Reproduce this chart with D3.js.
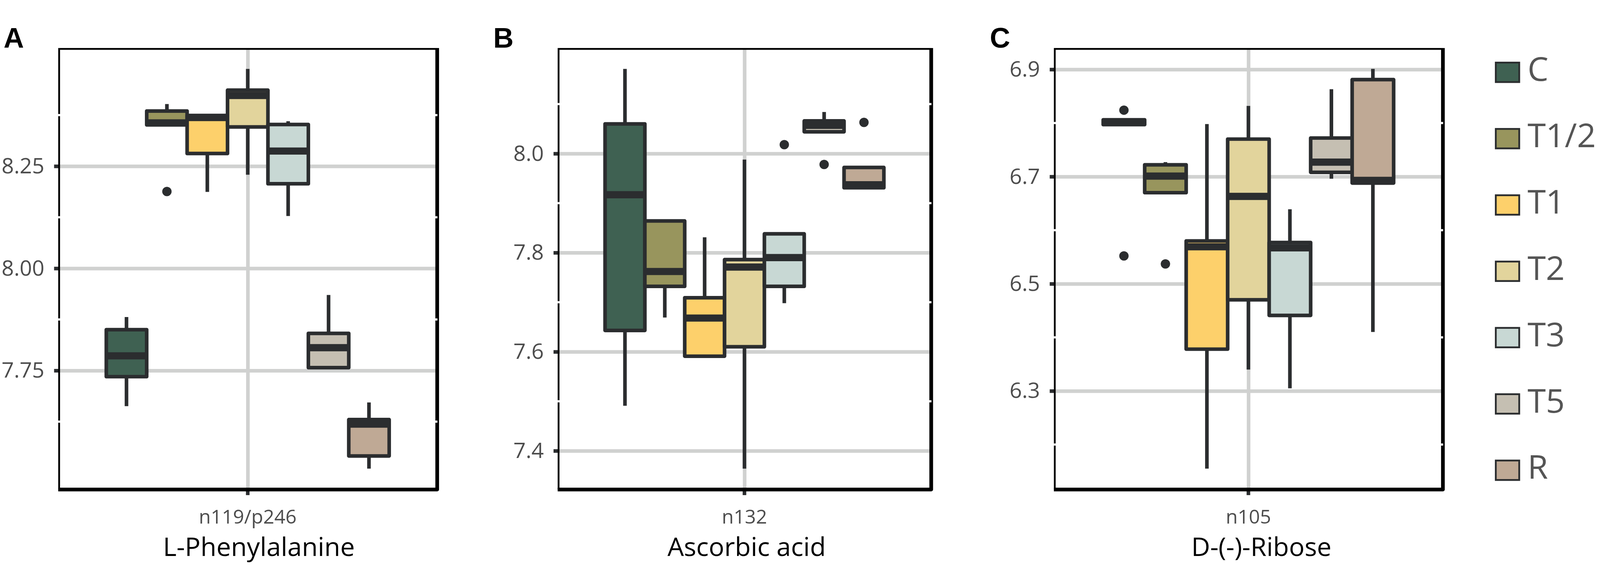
<!DOCTYPE html>
<html>
<head>
<meta charset="utf-8">
<script src="https://cdn.jsdelivr.net/npm/d3@7"></script>
<style>
  html, body { margin: 0; padding: 0; background: #fff; overflow: hidden; }
  #chart { display: block; width: 100vw; height: 100vh; }
  svg text { font-family: "Open Sans", "Noto Sans", sans-serif; }
</style>
</head>
<body>
<svg id="chart" viewBox="0 0 4437 1506" preserveAspectRatio="xMidYMid meet"></svg>
<script>
const groups = ["C", "T1/2", "T1", "T2", "T3", "T5", "R"]
const groupColors = ["#3f6152", "#98955d", "#fdd06b", "#e2d49c", "#c8d8d4", "#c5bfb2", "#bfa995"]

// each row: [lower whisker, q1, median, q3, upper whisker], in group order
const pheStats = [
  [7.663, 7.735, 7.786, 7.850, 7.881],
  [8.351, 8.351, 8.356, 8.385, 8.402],
  [8.187, 8.281, 8.369, 8.374, 8.374],
  [8.229, 8.346, 8.423, 8.436, 8.488],
  [8.128, 8.207, 8.287, 8.352, 8.360],
  [7.757, 7.757, 7.806, 7.841, 7.935],
  [7.510, 7.541, 7.619, 7.630, 7.672],
]
const pheOutliers = [["T1/2", 8.188]]
const pheTicks = [7.75, 8.00, 8.25]
const pheMinor = [7.625, 7.875, 8.125, 8.375]

const ascStats = [
  [7.491, 7.643, 7.917, 8.060, 8.171],
  [7.669, 7.732, 7.762, 7.864, 7.864],
  [7.591, 7.591, 7.668, 7.709, 7.831],
  [7.364, 7.610, 7.771, 7.786, 7.988],
  [7.698, 7.732, 7.790, 7.838, 7.838],
  [8.044, 8.044, 8.057, 8.066, 8.084],
  [7.931, 7.931, 7.937, 7.972, 7.972],
]
const ascOutliers = [["T3", 8.018], ["T5", 7.978], ["R", 8.063]]
const ascTicks = [7.4, 7.6, 7.8, 8.0]
const ascMinor = [7.5, 7.7, 7.9, 8.1]

const ribStats = [
  [6.797, 6.797, 6.801, 6.806, 6.806],
  [6.670, 6.670, 6.701, 6.722, 6.727],
  [6.155, 6.378, 6.569, 6.580, 6.798],
  [6.340, 6.470, 6.663, 6.770, 6.832],
  [6.305, 6.441, 6.567, 6.577, 6.639],
  [6.696, 6.708, 6.727, 6.772, 6.863],
  [6.410, 6.688, 6.693, 6.881, 6.901],
]
const ribOutliers = [["C", 6.824], ["C", 6.552], ["T1/2", 6.537]]
const ribTicks = [6.3, 6.5, 6.7, 6.9]
const ribMinor = [6.2, 6.4, 6.6, 6.8]

const ink = "#2b2d2f"
const gridGrey = "#d0d1d0"
const plotTop = 73, plotBottom = 1293

const svg = d3.select("#chart")

const color = d3.scaleOrdinal().domain(groups).range(groupColors)

/**
 * Draws one boxplot panel with its frame, grid, axis labels and tag.
 */
const drawPanel = ({ x0, x1, tagX, tag, stats, outliers, ticks, minor, fmt, xLabel, title, titleShift }) => {
  const g = svg.append("g")

  // ggplot style: data range plus 5% on each side
  const lo = d3.min(stats, d => d[0])
  const hi = d3.max(stats, d => d[4])
  const pad = (hi - lo) * 0.05
  const y = d3.scaleLinear().domain([lo - pad, hi + pad]).range([plotBottom, plotTop])

  // one discrete position, expanded by 0.6 on each side
  const x = d3.scaleLinear().domain([0.4, 1.6]).range([x0, x1])
  const dodge = d3.scaleBand().domain(groups).range([x(0.55), x(1.45)]).padding(0)

  // grid
  g.append("g")
    .attr("transform", `translate(${x0},0)`)
    .call(d3.axisLeft(y).tickValues(ticks).tickSize(-(x1 - x0)).tickFormat(""))
    .call(s => s.select(".domain").remove())
    .selectAll("line").attr("stroke", gridGrey).attr("stroke-width", 10)

  g.append("g")
    .attr("transform", `translate(0,${plotBottom})`)
    .call(d3.axisBottom(x).tickValues([1]).tickSize(-(plotBottom - plotTop)).tickFormat(""))
    .call(s => s.select(".domain").remove())
    .selectAll("line").attr("stroke", gridGrey).attr("stroke-width", 10)

  // y ticks and labels
  g.append("g")
    .attr("transform", `translate(${x0},0)`)
    .call(d3.axisLeft(y).tickValues(ticks).tickSizeInner(14).tickSizeOuter(0).tickPadding(27).tickFormat(d3.format(fmt)))
    .call(s => s.select(".domain").remove())
    .call(s => s.selectAll("line").attr("stroke", ink).attr("stroke-width", 10))
    .call(s => s.selectAll("text")
      .attr("fill", "#4d4d4d")
      .style("font-size", "60px")
      .style("font-family", '"Open Sans", sans-serif'))

  // x tick
  g.append("line")
    .attr("x1", x(1)).attr("x2", x(1))
    .attr("y1", plotBottom).attr("y2", plotBottom + 18)
    .attr("stroke", ink).attr("stroke-width", 10)

  // boxes
  const boxes = g.selectAll("g.box")
    .data(stats.map((s, i) => ({ group: groups[i], s })))
    .join("g")
    .classed("box", true)

  boxes.append("line")
    .attr("x1", d => dodge(d.group) + dodge.bandwidth() / 2)
    .attr("x2", d => dodge(d.group) + dodge.bandwidth() / 2)
    .attr("y1", d => y(d.s[4]))
    .attr("y2", d => y(d.s[0]))
    .attr("stroke", ink)
    .attr("stroke-width", 10)

  boxes.append("rect")
    .attr("x", d => dodge(d.group))
    .attr("width", dodge.bandwidth())
    .attr("y", d => y(d.s[3]))
    .attr("height", d => Math.max(0.5, y(d.s[1]) - y(d.s[3])))
    .attr("fill", d => color(d.group))
    .attr("stroke", ink)
    .attr("stroke-width", 10)
    .attr("stroke-linejoin", "round")

  boxes.append("line")
    .attr("x1", d => dodge(d.group))
    .attr("x2", d => dodge(d.group) + dodge.bandwidth())
    .attr("y1", d => y(d.s[2]))
    .attr("y2", d => y(d.s[2]))
    .attr("stroke", ink)
    .attr("stroke-width", 20)

  g.selectAll("circle.outlier")
    .data(outliers)
    .join("circle")
    .classed("outlier", true)
    .attr("cx", d => dodge(d[0]) + dodge.bandwidth() / 2)
    .attr("cy", d => y(d[1]))
    .attr("r", 13)
    .attr("fill", ink)

  // frame: thin top/left, heavier right/bottom
  g.append("rect")
    .attr("x", x0).attr("y", plotTop)
    .attr("width", x1 - x0).attr("height", plotBottom - plotTop)
    .attr("fill", "none").attr("stroke", "#000").attr("stroke-width", 5)
  g.append("path")
    .attr("d", `M${x1 + 2.5},${plotTop - 2.5}V${plotBottom + 2.5}H${x0 - 2.5}`)
    .attr("fill", "none").attr("stroke", "#000").attr("stroke-width", 10)
    .attr("stroke-linejoin", "round")

  // white minor notches across the frame sides
  g.selectAll("line.minor")
    .data(minor.flatMap(v => [[x0 - 4, x0 + 4, v], [x1 - 4, x1 + 3, v]]))
    .join("line")
    .classed("minor", true)
    .attr("x1", d => d[0]).attr("x2", d => d[1])
    .attr("y1", d => y(d[2])).attr("y2", d => y(d[2]))
    .attr("stroke", "#fff").attr("stroke-width", 6)

  g.append("text")
    .attr("x", x(1)).attr("y", 1390)
    .attr("text-anchor", "middle")
    .attr("fill", "#4d4d4d")
    .style("font-size", "54px")
    .text(xLabel)

  g.append("text")
    .attr("x", x(1) + titleShift).attr("y", 1480)
    .attr("text-anchor", "middle")
    .attr("fill", "#000")
    .style("font-size", "72px")
    .text(title)

  g.append("text")
    .attr("x", tagX).attr("y", 70)
    .attr("fill", "#000")
    .style("font-family", '"Liberation Sans", Arial, sans-serif')
    .style("font-weight", "bold")
    .style("font-size", "78px")
    .text(tag)
}

drawPanel({ x0: 164, x1: 1210, tagX: 10, tag: "A", stats: pheStats, outliers: pheOutliers,
  ticks: pheTicks, minor: pheMinor, fmt: ".2f", xLabel: "n119/p246", title: "L-Phenylalanine", titleShift: 31 })
drawPanel({ x0: 1549, x1: 2580, tagX: 1368, tag: "B", stats: ascStats, outliers: ascOutliers,
  ticks: ascTicks, minor: ascMinor, fmt: ".1f", xLabel: "n132", title: "Ascorbic acid", titleShift: 6 })
drawPanel({ x0: 2925, x1: 3999, tagX: 2745, tag: "C", stats: ribStats, outliers: ribOutliers,
  ticks: ribTicks, minor: ribMinor, fmt: ".1f", xLabel: "n105", title: "D-(-)-Ribose", titleShift: 36 })

// legend
const legend = svg.append("g").attr("transform", "translate(4148,0)")
const legendY = d3.scalePoint().domain(groups).range([138, 1242])

legend.selectAll("rect")
  .data(groups)
  .join("rect")
  .attr("x", 0)
  .attr("y", d => legendY(d) - 27)
  .attr("width", 65)
  .attr("height", 54)
  .attr("fill", d => color(d))
  .attr("stroke", ink)
  .attr("stroke-width", 5)

legend.selectAll("text")
  .data(groups)
  .join("text")
  .attr("x", 88)
  .attr("y", d => legendY(d))
  .attr("dy", "0.26em")
  .attr("fill", "#555")
  .style("font-size", "92px")
  .text(d => d)
</script>
</body>
</html>
